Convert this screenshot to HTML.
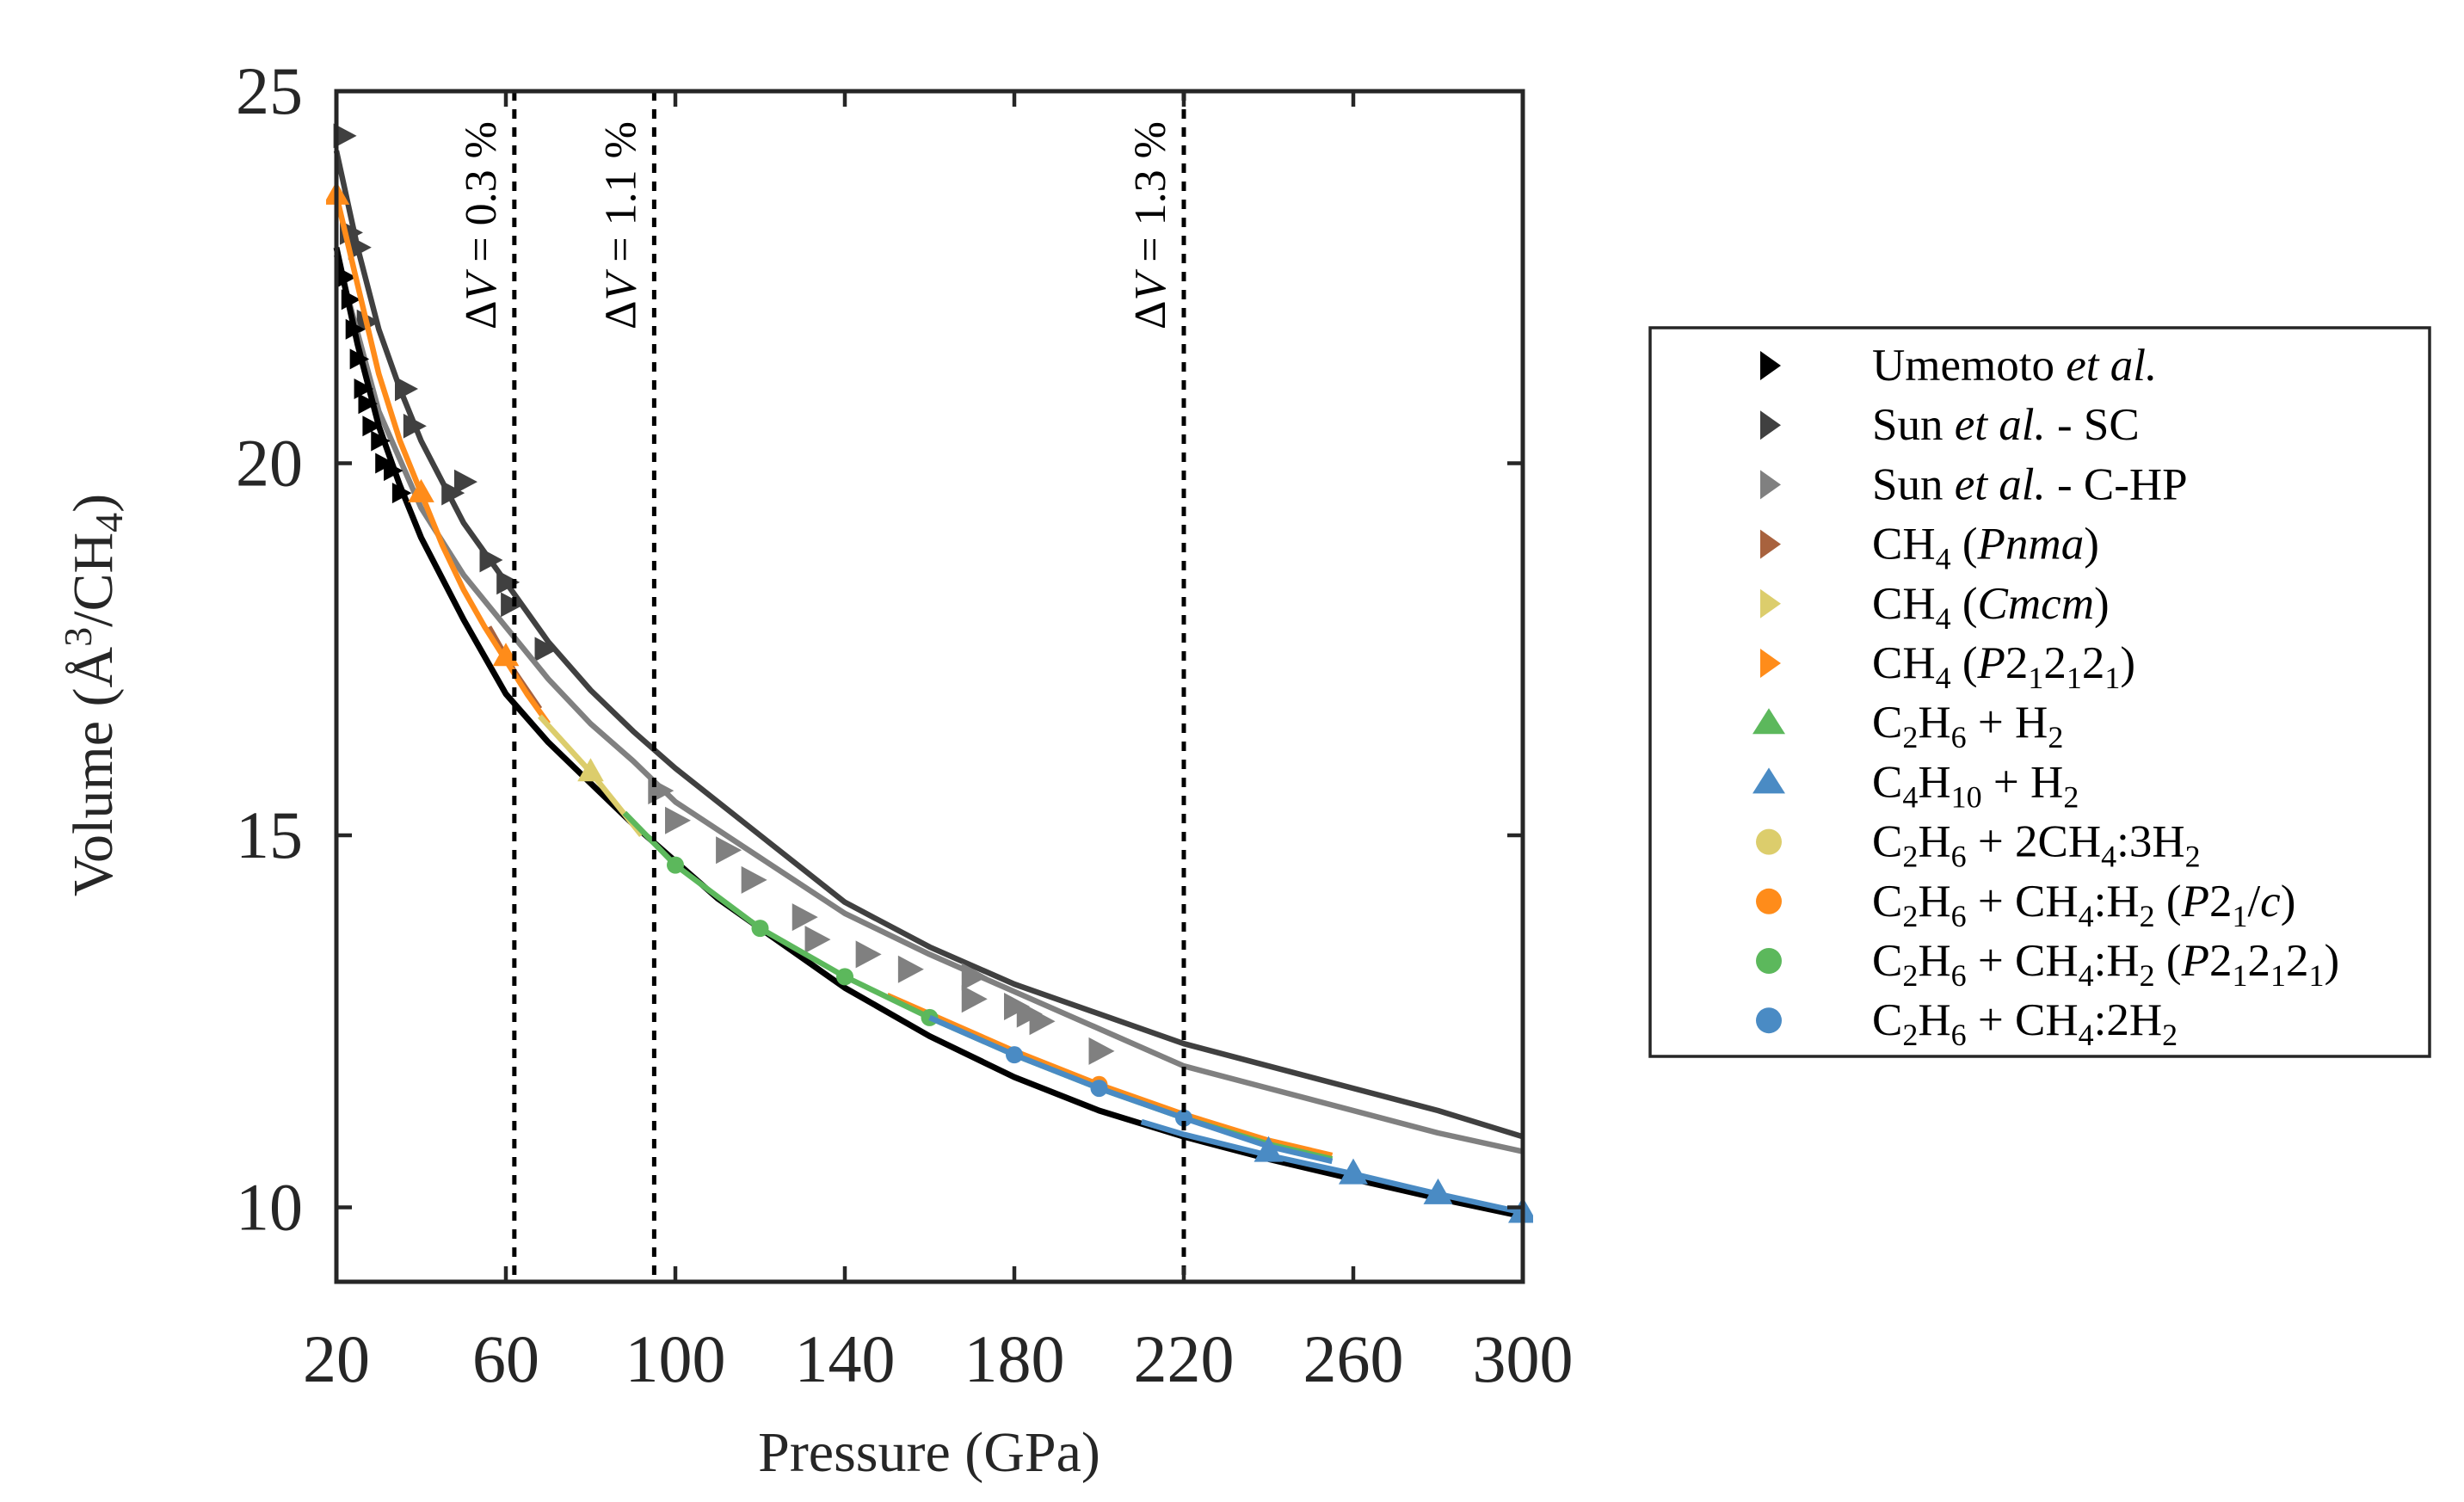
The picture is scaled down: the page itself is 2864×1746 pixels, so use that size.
<!DOCTYPE html>
<html><head><meta charset="utf-8">
<style>
html,body{margin:0;padding:0;background:#fff;}
svg{display:block;font-family:"Liberation Serif","DejaVu Serif",serif;}
</style></head>
<body>
<svg id="chart" width="2864" height="1746" viewBox="0 0 2864 1746" xmlns="http://www.w3.org/2000/svg">
<g id="plot"></g>
<g id="legend"></g>
</svg>
<script>
const xTicks=[20,60,100,140,180,220,260,300];
const yTicks=[10,15,20,25];
const dvLines=[62,95,220];
const dvLabels=["0.3","1.1","1.3"];
const umeP=[20,25,30,35,40,50,60,70,80,90,100,110,120,140,160,180,200,220,240,260,280,300];
const umeV=[22.9,21.6,20.5,19.7,19.0,17.9,16.9,16.25,15.7,15.15,14.65,14.15,13.75,12.95,12.3,11.75,11.3,10.95,10.65,10.38,10.12,9.88];
const umeMP=[22,23,24,25,26,27,28,30,31,33,35];
const umeMV=[22.5,22.2,21.8,21.4,21.0,20.8,20.5,20.3,20.0,19.9,19.6];
const scP=[20,25,30,35,40,50,60,70,80,90,100,120,140,160,180,200,220,240,260,280,300];
const scV=[24.2,22.9,21.8,21.0,20.3,19.2,18.4,17.6,16.95,16.4,15.9,15.0,14.1,13.5,13.0,12.6,12.2,11.9,11.6,11.3,10.95];
const scMP=[21.5,23,25,27,36,38,47,50,56,60,61,69];
const scMV=[24.4,23.1,22.9,21.9,21.0,20.5,19.6,19.75,18.7,18.4,18.1,17.5];
const chpP=[20,30,40,50,60,70,80,90,100,120,140,160,180,200,220,240,260,280,300];
const chpV=[22.8,20.7,19.4,18.5,17.8,17.1,16.5,16.0,15.45,14.7,13.95,13.4,12.9,12.4,11.9,11.6,11.3,11.0,10.75];
const chpMP=[96,100,112,118,130,133,145,155,170,170,180,183,186,200];
const chpMV=[15.6,15.2,14.8,14.4,13.9,13.6,13.4,13.2,13.1,12.8,12.7,12.6,12.5,12.1];
const p212P=[20,25,30,35,40,45,50,55,60,65,70];
const p212V=[23.6,22.4,21.2,20.3,19.6,18.9,18.3,17.8,17.35,16.9,16.5];
const p212MP=[20,40,60];
const p212MV=[23.6,19.6,17.4];
const pnmaP=[56,62,68];
const pnmaV=[17.8,17.2,16.7];
const cmcmP=[68,80,92];
const cmcmV=[16.6,15.85,15.0];
const cmcmMP=[80];
const cmcmMV=[15.85];
const p21cP=[150,180,200,220,240,255];
const p21cV=[12.85,12.1,11.65,11.25,10.9,10.7];
const p21cMP=[200];
const p21cMV=[11.65];
const greenP=[88,100,120,140,160,180,200,220,240,255];
const greenV=[15.3,14.6,13.75,13.1,12.55,12.05,11.6,11.2,10.85,10.65];
const greenMP=[100,120,140,160];
const greenMV=[14.6,13.75,13.1,12.55];
const blueP=[160,180,200,220,240,255];
const blueV=[12.55,12.05,11.6,11.2,10.82,10.62];
const blueMP=[180,200,220];
const blueMV=[12.05,11.6,11.2];
const c4P=[210,220,240,260,280,300];
const c4V=[11.15,10.98,10.7,10.45,10.18,9.93];
const c4MP=[240,260,280,300];
const c4MV=[10.75,10.45,10.18,9.93];

const L=391,R=1770,T=106,B=1490,XMIN=20,XMAX=300,YMIN=9,YMAX=25;
const X=v=>L+(v-XMIN)/(XMAX-XMIN)*(R-L);
const Y=v=>B-(v-YMIN)/(YMAX-YMIN)*(B-T);
const NS="http://www.w3.org/2000/svg";
const plot=document.getElementById('plot');
const leg=document.getElementById('legend');
function mk(tag,attrs,parent){const e=document.createElementNS(NS,tag);for(const k in attrs)e.setAttribute(k,attrs[k]);(parent||plot).appendChild(e);return e;}

const defs=mk('defs',{});
const cp=mk('clipPath',{id:'clip'},defs);
mk('rect',{x:L-12,y:T,width:R-L+24,height:B-T},cp);
const series=mk('g',{'clip-path':'url(#clip)'});



function line(ps,vs,color,name,w){
  const d=ps.map((p,i)=>(i?'L':'M')+X(p).toFixed(1)+','+Y(vs[i]).toFixed(1)).join(' ');
  const e=mk('path',{d:d,fill:'none',stroke:color,'stroke-width':w||6.5,'stroke-linejoin':'round'},series);
  
  
}
function tri(cx,cy,s,dir){
  if(dir==='r')return `${cx-s*0.6},${cy-s*0.8} ${cx+s*0.9},${cy} ${cx-s*0.6},${cy+s*0.8}`;
  return `${cx},${cy-s*0.9} ${cx+s*0.85},${cy+s*0.6} ${cx-s*0.85},${cy+s*0.6}`;
}
function marks(ps,vs,color,kind,name,parent,s){
  ps.forEach((p,i)=>{
    const cx=X(p),cy=Y(vs[i]);let e;
    if(kind==='c')e=mk('circle',{cx:cx,cy:cy,r:s||10,fill:color},parent||series);
    else e=mk('polygon',{points:tri(cx,cy,s||18,kind),fill:color},parent||series);
    
    
  });
}
const cBlack='#000',cSC='#404040',cCHP='#808080',cBrown='#a8623e',cYel='#dccd6c',cOr='#ff8c1a',cGr='#5cb85c',cBl='#4a8bc4';

line(scP,scV,cSC,'sun-sc-line');
marks(scMP,scMV,cSC,'r','sun-sc-marker');
line(chpP,chpV,cCHP,'sun-chp-line');
marks(chpMP,chpMV,cCHP,'r','sun-chp-marker',null,20);
line(umeP,umeV,cBlack,'umemoto-line',7);
marks(umeMP,umeMV,cBlack,'r','umemoto-marker',null,15);
line(pnmaP,pnmaV,cBrown,'ch4-pnma-line');
line(p212P,p212V,cOr,'ch4-p212121-line');
marks(p212MP,p212MV,cOr,'u','ch4-p212121-marker',null,18);
line(cmcmP,cmcmV,cYel,'ch4-cmcm-line');
marks(cmcmMP,cmcmMV,cYel,'u','ch4-cmcm-marker',null,18);
line(p21cP,p21cV,cOr,'c2h6-ch4h2-p21c-line');
marks(p21cMP,p21cMV,cOr,'c','c2h6-ch4h2-p21c-marker');
line(greenP,greenV,cGr,'c2h6-ch4h2-p212121-line');
marks(greenMP,greenMV,cGr,'c','c2h6-ch4h2-p212121-marker');
line(blueP,blueV,cBl,'c2h6-ch42h2-line');
marks(blueMP,blueMV,cBl,'c','c2h6-ch42h2-marker');
line(c4P,c4V,cBl,'c4h10-h2-line');
marks(c4MP,c4MV,cBl,'u','c4h10-h2-marker',series,20);

dvLines.forEach((p,i)=>{
  const e=mk('line',{x1:X(p),x2:X(p),y1:T,y2:B,stroke:'#000','stroke-width':5,'stroke-dasharray':'11 10'});
  
  
  const t=mk('text',{x:0,y:0,transform:`translate(${X(p)-22},${262}) rotate(-90)`,'text-anchor':'middle','font-size':52,fill:'#000'});
  t.innerHTML=`Δ<tspan font-style="italic">V</tspan> = ${dvLabels[i]} %`;
  
  
});

const box=mk('rect',{x:L,y:T,width:R-L,height:B-T,fill:'none',stroke:'#262626','stroke-width':5});


xTicks.forEach(v=>{
  const x=X(v);
  const a=mk('line',{x1:x,x2:x,y1:B,y2:B-18,stroke:'#262626','stroke-width':4.5});
  
  const b=mk('line',{x1:x,x2:x,y1:T,y2:T+18,stroke:'#262626','stroke-width':4.5});
  
  const t=mk('text',{x:x,y:1606,'text-anchor':'middle','font-size':78,fill:'#262626'});
  t.textContent=v;
  
});
yTicks.forEach(v=>{
  const y=Y(v);
  const a=mk('line',{x1:L,x2:L+18,y1:y,y2:y,stroke:'#262626','stroke-width':4.5});
  
  const b=mk('line',{x1:R,x2:R-18,y1:y,y2:y,stroke:'#262626','stroke-width':4.5});
  
  const t=mk('text',{x:352,y:y+26,'text-anchor':'end','font-size':78,fill:'#262626'});
  t.textContent=v;
  
});
const xl=mk('text',{x:1080,y:1710,'text-anchor':'middle','font-size':66,fill:'#262626'});
xl.textContent='Pressure (GPa)';

const yl=mk('text',{x:0,y:0,transform:'translate(130,808) rotate(-90)','text-anchor':'middle','font-size':66,fill:'#262626'});
yl.innerHTML='Volume (Å<tspan dy="-24" font-size="46">3</tspan><tspan dy="24">/CH</tspan><tspan dy="12" font-size="46">4</tspan><tspan dy="-12">)</tspan>';


const lb=mk('rect',{x:1918,y:381,width:906,height:847,fill:'#fff',stroke:'#262626','stroke-width':3.5},leg);

const sub=(s)=>`<tspan dy="12" font-size="36">${s}</tspan><tspan dy="-12">`;
const entries=[
 ['r',cBlack,'Umemoto <tspan font-style="italic">et al.</tspan>'],
 ['r',cSC,'Sun <tspan font-style="italic">et al.</tspan> - SC'],
 ['r',cCHP,'Sun <tspan font-style="italic">et al.</tspan> - C-HP'],
 ['r',cBrown,'CH'+sub('4')+' (<tspan font-style="italic">Pnma</tspan>)</tspan>'],
 ['r',cYel,'CH'+sub('4')+' (<tspan font-style="italic">Cmcm</tspan>)</tspan>'],
 ['r',cOr,'CH'+sub('4')+' (<tspan font-style="italic">P</tspan>2'+sub('1')+'2</tspan>'+sub('1')+'2</tspan>'+sub('1')+')</tspan>'],
 ['u',cGr,'C'+sub('2')+'H</tspan>'+sub('6')+' + H</tspan>'+sub('2')+'</tspan>'],
 ['u',cBl,'C'+sub('4')+'H</tspan>'+sub('10')+' + H</tspan>'+sub('2')+'</tspan>'],
 ['c',cYel,'C'+sub('2')+'H</tspan>'+sub('6')+' + 2CH</tspan>'+sub('4')+':3H</tspan>'+sub('2')+'</tspan>'],
 ['c',cOr,'C'+sub('2')+'H</tspan>'+sub('6')+' + CH</tspan>'+sub('4')+':H</tspan>'+sub('2')+' (<tspan font-style="italic">P</tspan>2</tspan>'+sub('1')+'/<tspan font-style="italic">c</tspan>)</tspan>'],
 ['c',cGr,'C'+sub('2')+'H</tspan>'+sub('6')+' + CH</tspan>'+sub('4')+':H</tspan>'+sub('2')+' (<tspan font-style="italic">P</tspan>2</tspan>'+sub('1')+'2</tspan>'+sub('1')+'2</tspan>'+sub('1')+')</tspan>'],
 ['c',cBl,'C'+sub('2')+'H</tspan>'+sub('6')+' + CH</tspan>'+sub('4')+':2H</tspan>'+sub('2')+'</tspan>']
];
entries.forEach((en,i)=>{
  const cy=425+i*69.2, cx=2056;
  const g=mk('g',{},leg);
  
  
  let m;
  if(en[0]==='c')m=mk('circle',{cx:cx,cy:cy,r:15,fill:en[1]},g);
  else if(en[0]==='r')m=mk('polygon',{points:`${cx-10},${cy-17} ${cx+14},${cy} ${cx-10},${cy+17}`,fill:en[1]},g);
  else m=mk('polygon',{points:`${cx},${cy-17} ${cx+19},${cy+13} ${cx-19},${cy+13}`,fill:en[1]},g);
  
  
  const t=mk('text',{x:2176,y:cy+17,'font-size':53,fill:'#000'},g);
  t.innerHTML=en[2];
  
  
});
</script>
</body></html>
